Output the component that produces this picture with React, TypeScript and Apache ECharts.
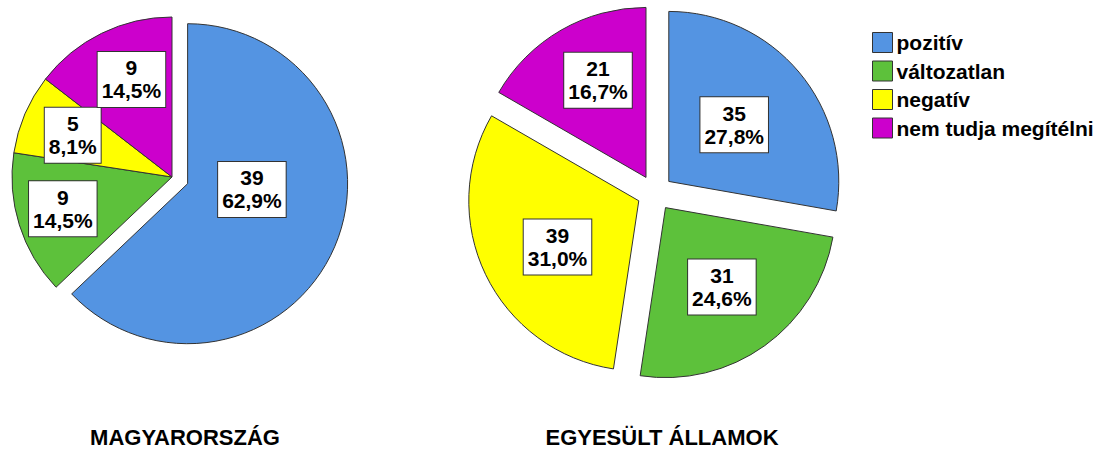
import React, { useEffect, useRef } from "react";
import * as echarts from "echarts";

const categories = ["pozitív", "változatlan", "negatív", "nem tudja megítélni"];
const colors = ["#5494E2", "#5DC13B", "#FFFF00", "#CC00CC"];

const huTitle = "MAGYARORSZÁG";
const huValues = [39, 9, 5, 9];
const huExploded = [true, false, false, false];
const huLabelShift = [[-12, -27], [-30, 7], [-23, -9], [-4, -23]];

const usTitle = "EGYESÜLT ÁLLAMOK";
const usValues = [35, 31, 39, 21];
const usExploded = [true, true, true, true];
const usLabelShift = [[-2, 0], [5, 8], [-2, 8], [-4, -21]];

const FONT = "'Liberation Sans', Arial, sans-serif";

function fmtPct(v: number, total: number) {
  return (v / total * 100).toFixed(1).replace(".", ",") + "%";
}

function makePie(values: number[], exploded: boolean[], shifts: number[][], center: number[], radius: number, offset: number) {
  const total = values.reduce((a, b) => a + b, 0);
  return {
    type: "pie",
    center,
    radius,
    startAngle: 90,
    clockwise: true,
    selectedMode: "multiple",
    selectedOffset: offset,
    avoidLabelOverlap: false,
    emphasis: { disabled: true },
    itemStyle: { borderColor: "#333", borderWidth: 1 },
    select: { itemStyle: { borderColor: "#333", borderWidth: 1 } },
    labelLine: { show: false },
    label: {
      show: true,
      position: "inside",
      formatter: (p: any) => `${p.value}\n${fmtPct(p.value, total)}`,
      color: "#000",
      fontFamily: FONT,
      fontWeight: "bold",
      fontSize: 21,
      lineHeight: 23,
      backgroundColor: "#fff",
      borderColor: "#333",
      borderWidth: 1,
      padding: [5, 4, 4, 4],
      align: "center",
    },
    labelLayout: (p: any) => ({ dx: shifts[p.dataIndex][0], dy: shifts[p.dataIndex][1] }),
    data: categories.map((name, i) => ({
      name,
      value: values[i],
      selected: exploded[i],
      itemStyle: { color: colors[i] },
    })),
  };
}

export default function App() {
  const ref = useRef<HTMLDivElement>(null);
  useEffect(() => {
    document.body.style.margin = "0";
    const chart = echarts.init(ref.current!, null, { renderer: "svg" });
    chart.setOption({
      animation: false,
      backgroundColor: "#fff",
      legend: {
        orient: "vertical",
        left: 872,
        top: 32,
        padding: 0,
        itemWidth: 20,
        itemHeight: 20,
        itemGap: 7.5,
        icon: "rect",
        selectedMode: false,
        data: categories,
        itemStyle: { borderColor: "#333", borderWidth: 1 },
        textStyle: { color: "#000", fontFamily: FONT, fontWeight: "bold", fontSize: 21, padding: [0, 0, 0, -1] },
      },
      graphic: [
        {
          type: "text",
          x: 185,
          y: 437,
          style: { text: huTitle, textAlign: "center", textVerticalAlign: "middle", font: `bold 22px ${FONT}`, fill: "#000" },
        },
        {
          type: "text",
          x: 662,
          y: 437,
          style: { text: usTitle, textAlign: "center", textVerticalAlign: "middle", font: `bold 22px ${FONT}`, fill: "#000" },
        },
      ],
      series: [
        makePie(huValues, huExploded, huLabelShift, [172, 177], 160, 17),
        makePie(usValues, usExploded, usLabelShift, [655, 193], 170, 18),
      ],
    });
    return () => chart.dispose();
  }, []);
  return <div ref={ref} style={{ width: 1110, height: 450 }} />;
}
